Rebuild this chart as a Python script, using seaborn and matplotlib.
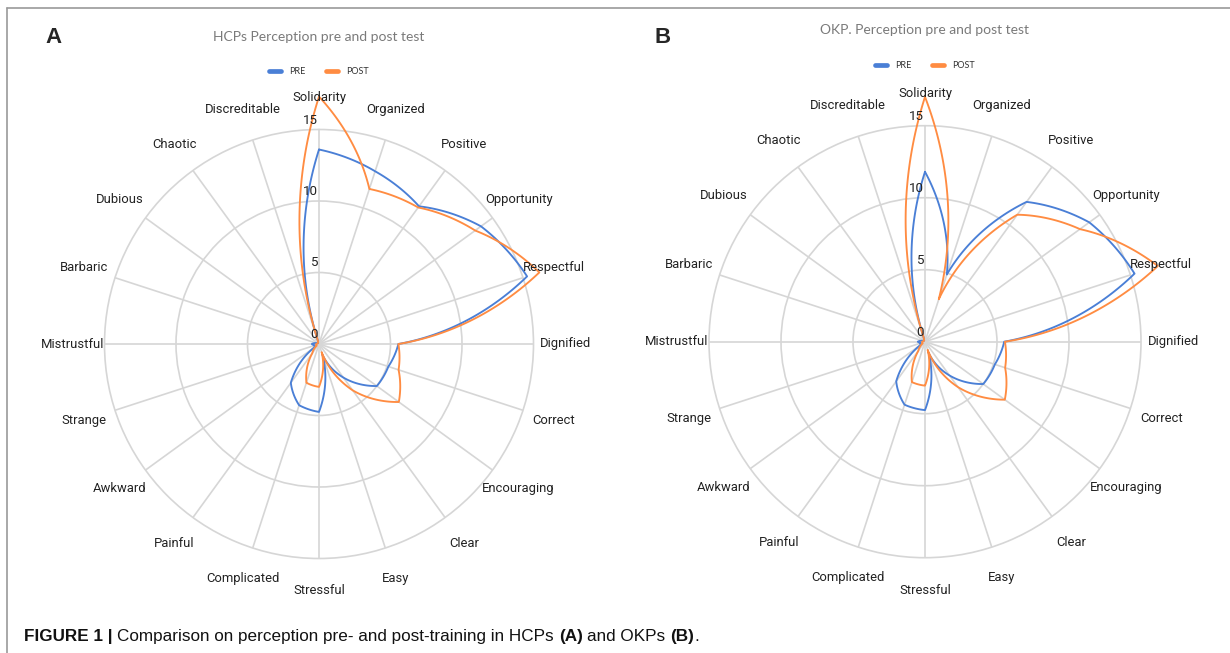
import numpy as np
import pandas as pd
import matplotlib
matplotlib.use("Agg")
import matplotlib.pyplot as plt
import matplotlib.transforms as mtransforms
from matplotlib.lines import Line2D
import seaborn as sns

# ---------------------------------------------------------------- data
categories = ["Solidarity", "Organized", "Positive", "Opportunity", "Respectful",
              "Dignified", "Correct", "Encouraging", "Clear", "Easy", "Stressful",
              "Complicated", "Painful", "Awkward", "Strange", "Mistrustful",
              "Barbaric", "Dubious", "Chaotic", "Discreditable"]

hcp_pre = [13.6, 12.7, 11.9, 14.0, 15.3, 5.55, 5.1, 5.0, 2.9, 0.8, 4.75,
           4.5, 3.35, 0.4, 0.3, 0.5, 0.2, 0.1, 0.1, 0.2]
hcp_post = [17.3, 11.4, 11.8, 13.5, 16.2, 5.55, 5.85, 6.9, 4.0, 0.6, 3.0,
            2.85, 0.8, 0.2, 0.2, 0.2, 0.1, 0.1, 0.1, 0.2]
okp_pre = [11.8, 4.9, 12.0, 14.1, 15.3, 5.5, 5.1, 5.0, 2.9, 0.8, 4.75,
           4.6, 3.4, 0.4, 0.3, 0.5, 0.2, 0.1, 0.1, 0.2]
okp_post = [17.0, 3.1, 10.9, 13.3, 17.0, 5.55, 5.85, 6.85, 3.9, 0.6, 3.05,
            2.95, 0.8, 0.2, 0.2, 0.2, 0.1, 0.1, 0.1, 0.2]

series_names = ["PRE", "POST"]
radial_ticks = [0, 5, 10, 15]
panel_titles = ["HCPs Perception pre and post test", "OKP. Perception pre and post test"]
panel_letters = ["A", "B"]
caption_parts = [("FIGURE 1 |", "bold"),
                 ("Comparison on perception pre- and post-training in HCPs", "normal"),
                 ("(A)", "bold"), ("and OKPs", "normal"), ("(B)", "bold"), (".", "normal")]

# ---------------------------------------------------------------- style
sns.set_theme(style="white")
plt.rcParams["font.family"] = ["Roboto", "DejaVu Sans"]

palette = {"PRE": "#4a7fd6", "POST": "#ff8c42"}
grid_color = "#d6d6d6"
label_color = "#222222"

W, H = 1230, 653
fig = plt.figure(figsize=(W / 100, H / 100), dpi=100)
fig.patch.set_facecolor("white")

thetas = np.linspace(0, 2 * np.pi, len(categories), endpoint=False)


def radar_frame(pre, post):
    """Long-form table of both series, each closed back onto its first spoke."""
    th = np.append(thetas, 2 * np.pi)
    parts = []
    for name, vals in zip(series_names, (pre, post)):
        closed = list(vals) + [vals[0]]
        parts.append(pd.DataFrame({"theta": th, "value": closed, "series": name}))
    return pd.concat(parts, ignore_index=True)


def draw_panel(cx, cy, scale, pre, post, title, letter, letter_x, title_y, legend_y):
    rmax = 17.5
    rad = rmax * scale
    ax = fig.add_axes([(cx - rad) / W, (H - cy - rad) / H, 2 * rad / W, 2 * rad / H],
                      projection="polar")
    ax.set_theta_zero_location("N")
    ax.set_theta_direction(-1)
    ax.set_facecolor("none")
    ax.spines["polar"].set_visible(False)
    ax.set_ylim(0, rmax)
    ax.set_xticks([])
    ax.set_yticks([5, 10, 15])
    ax.set_yticklabels([])
    ax.yaxis.grid(True, color=grid_color, lw=1.2)
    ax.xaxis.grid(False)

    # spokes out to the 15 ring
    ax.vlines(thetas, 0, 15, color=grid_color, lw=1.2, zorder=1)

    df = radar_frame(pre, post)
    sns.lineplot(data=df, x="theta", y="value", hue="series", palette=palette,
                 hue_order=series_names, sort=False, estimator=None, legend=False,
                 lw=1.35, ax=ax, zorder=3)
    ax.set_xlabel("")
    ax.set_ylabel("")
    ax.set_ylim(0, rmax)
    # follow the polar grid between spokes instead of straight chords
    for line in ax.lines:
        line.get_path()._interpolation_steps = 60

    tick_tr = mtransforms.offset_copy(ax.transData, fig=fig, x=-1.5, y=3, units="dots")
    for r in radial_ticks:
        ax.text(0, r, str(r), transform=tick_tr, ha="right", va="bottom",
                fontsize=9.6, color=label_color, zorder=5)

    for th, name in zip(thetas, categories):
        ax.text(th, 17.25, name, ha="center", va="center", fontsize=9.4,
                color=label_color, clip_on=False, zorder=5)

    fig.text(cx / W, 1 - title_y / H, title, ha="center", va="center", fontsize=10,
             color="#7a7a7a", family=["Lato", "DejaVu Sans"])

    handles = [Line2D([], [], color=palette[n], lw=3.4) for n in series_names]
    fig.legend(handles, series_names, loc="center", bbox_to_anchor=(cx / W, 1 - legend_y / H),
               ncol=2, frameon=False, handlelength=1.4, handletextpad=0.9,
               columnspacing=2.2, labelcolor="#333333",
               prop={"family": ["Lato", "DejaVu Sans"], "size": 6.5})

    fig.text(letter_x / W, 1 - 43 / H, letter, fontsize=16, fontweight="bold",
             family=["Liberation Sans", "DejaVu Sans"], va="baseline", ha="left")
    return ax


draw_panel(319, 344, 14.3, hcp_pre, hcp_post, panel_titles[0], panel_letters[0], 45, 37, 72)
draw_panel(925, 341.7, 14.4, okp_pre, okp_post, panel_titles[1], panel_letters[1], 655, 30, 66)

# figure frame (top and left rules)
fig.add_artist(Line2D([7 / W, 7 / W], [0, 1 - 8 / H], color="#9a9a9a", lw=1.2,
                      transform=fig.transFigure))
fig.add_artist(Line2D([7 / W, 1], [1 - 8 / H, 1 - 8 / H], color="#9a9a9a", lw=1.2,
                      transform=fig.transFigure))

# caption with mixed weights, laid out piece by piece
renderer = fig.canvas.get_renderer()
cap_family = ["Liberation Sans", "DejaVu Sans"]
cap_size = 12.3
probe1 = fig.text(0, 0, "x x", family=cap_family, fontsize=cap_size)
probe2 = fig.text(0, 0, "xx", family=cap_family, fontsize=cap_size)
space_w = probe1.get_window_extent(renderer).width - probe2.get_window_extent(renderer).width
probe1.remove()
probe2.remove()

x = 24.0
for i, (txt, wt) in enumerate(caption_parts):
    if i > 0 and txt != ".":
        x += space_w
    t = fig.text(x / W, 1 - 641 / H, txt, fontweight=wt, family=cap_family,
                 fontsize=cap_size, color="#111111", va="baseline", ha="left")
    x = t.get_window_extent(renderer).x1

fig.savefig("out.png", dpi=100, facecolor="white")
